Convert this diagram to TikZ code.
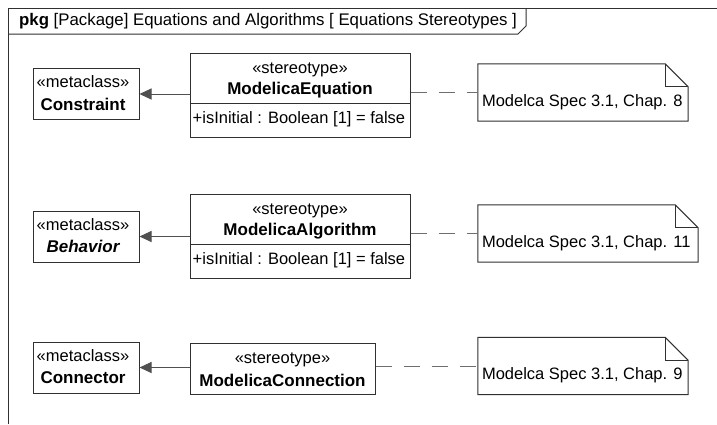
\documentclass[tikz,border=0pt]{standalone}
\usepackage{fontspec}
\setmainfont{Liberation Sans}
\usetikzlibrary{arrows.meta}
\usetikzlibrary{calc,positioning}

\definecolor{lineGray}{HTML}{303030}
\definecolor{arrowGray}{HTML}{505050}
\definecolor{dashGray}{HTML}{6E6E6E}

\tikzset{
    umlbox/.style={draw=lineGray, line width=1pt, rectangle, inner sep=0pt},
    txt/.style={font=\fontsize{16.5}{19}\selectfont, inner sep=0pt, text=black},
    txtbold/.style={font=\fontsize{17}{20}\selectfont\bfseries, inner sep=0pt, text=black},
    generalization/.style={draw=arrowGray, line width=1pt,
        -{Triangle[length=12pt,width=11pt,fill=arrowGray]}},
    noteline/.style={draw=dashGray, line width=1pt, dash pattern=on 16pt off 12pt},
}

% metaclass box: name, centre, label font, label
\newcommand\METACLASS[4] {
    \node[umlbox, minimum width=106pt, minimum height=51pt] (#1) at #2 { };
    \node[txt] (#1_st) at ([xshift=-3pt, yshift=12pt]#1.center) {«metaclass»};
    \node[txtbold, font=\fontsize{17}{20}\selectfont#3] (#1_name) 
        at ([xshift=-3pt, yshift=-10pt]#1.center) {#4};
}

% stereotype box: name, centre, width, height, label
\newcommand\STEREOTYPE[5] {
    \node[umlbox, minimum width=#3pt, minimum height=#4pt] (#1) at #2 { };
    \node[txt] (#1_st) at ([yshift=-17pt]#1.north) {«stereotype»};
    \node[txtbold] (#1_name) at ([yshift=-38pt]#1.north) {#5};
}

% note with folded corner: name, centre, width, text
\newcommand\NOTE[4] {
    \pgfmathsetmacro{\fold}{23}
    \node[inner sep=0pt, minimum width=#3pt, minimum height=57pt] (#1) at #2 { };
    \draw[lineGray, line width=1pt, fill=white] 
        (#1.north west) -- ([xshift=-\fold pt]#1.north east) 
        -- ([yshift=-\fold pt]#1.north east) -- (#1.south east) 
        -- (#1.south west) -- cycle;
    \draw[lineGray, line width=1pt] 
        ([xshift=-\fold pt]#1.north east) |- ([yshift=-\fold pt]#1.north east);
    \node[txt, anchor=west] (#1_txt) at ([xshift=4pt, yshift=-38pt]#1.north west) {#4};
}

\begin{document}
\begin{tikzpicture}[x=1pt, y=-1pt]
    \useasboundingbox[fill=white] (0,0) rectangle (717,424);

    % Package frame and its name tab.
    \draw[lineGray, line width=1pt] (8,424) -- (8,8) -- (717,8);
    \draw[lineGray, line width=1pt] (8,34) -- (518,34) -- (526,26) -- (526,8);
    \node[txt, font=\fontsize{16.8}{20}\selectfont, anchor=west] (title) at (19,21) 
        {\textbf{pkg} [Package] Equations and Algorithms [ Equations Stereotypes ]};

    % Metaclasses.
    \METACLASS{constraint}{(86,94)}{\bfseries}{Constraint}
    \METACLASS{behavior}{(86,236.5)}{\bfseries\itshape}{Behavior}
    \METACLASS{connector}{(86,367.5)}{\bfseries}{Connector}

    % Stereotypes.
    \STEREOTYPE{equation}{(300,95)}{220}{84}{ModelicaEquation}
    \STEREOTYPE{algorithm}{(300,236)}{220}{84}{ModelicaAlgorithm}
    \STEREOTYPE{connection}{(282.5,368.5)}{185}{51}{ModelicaConnection}
    \foreach \s in {equation,algorithm}
    {
        \draw[lineGray, line width=1pt] 
            ([yshift=-51pt]\s.north west) -- ([yshift=-51pt]\s.north east);
        \node[txt, anchor=west] (\s_attr) at ([xshift=3pt, yshift=-67pt]\s.north west) 
            {+isInitial : Boolean [1] = false};
    }

    % Notes.
    \NOTE{noteEq}{(583,92.5)}{210}{Modelca Spec 3.1, Chap. 8}
    \NOTE{noteAlg}{(588,233.5)}{220}{Modelca Spec 3.1, Chap. 11}
    \NOTE{noteCon}{(583,366)}{210}{Modelca Spec 3.1, Chap. 9}

    % Extensions.
    \draw[generalization] (equation.west |- constraint.east) -- (constraint.east);
    \draw[generalization] (algorithm.west |- behavior.east) -- (behavior.east);
    \draw[generalization] (connection.west |- connector.east) -- (connector.east);

    % Anchors to notes.
    \draw[noteline] (equation.east |- noteEq.west) -- (noteEq.west);
    \draw[noteline] (algorithm.east |- noteAlg.west) -- (noteAlg.west);
    \draw[noteline] (connection.east |- noteCon.west) -- (noteCon.west);

\end{tikzpicture}
\end{document}
